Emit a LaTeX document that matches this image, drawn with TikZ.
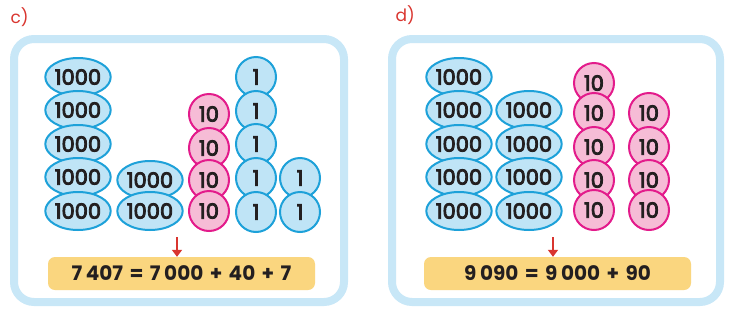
\documentclass[tikz,border=0pt]{standalone}
\usepackage{fontspec}
\setmainfont{Poppins}
\newfontfamily\numf[FakeBold=4]{Poppins}
\usetikzlibrary{shapes.geometric,arrows.meta}
\definecolor{bstroke}{HTML}{1DA1D9}
\definecolor{bfill}{HTML}{BFE4F6}
\definecolor{pstroke}{HTML}{E31B8B}
\definecolor{pfill}{HTML}{F6BCD6}
\definecolor{ybox}{HTML}{FAD67F}
\definecolor{frameb}{HTML}{C8E7F7}
\definecolor{lab}{HTML}{D9352F}
\definecolor{arr}{HTML}{D9352F}
\definecolor{txt}{HTML}{231F20}
\tikzset{
  thou/.style={ellipse,draw=bstroke,fill=bfill,line width=2pt,minimum width=64pt,minimum height=38pt,inner sep=0pt,font=\numf\fontsize{21}{21}\selectfont,text=txt},
  ten/.style={circle,draw=pstroke,fill=pfill,line width=2pt,minimum size=40pt,inner sep=0pt,font=\numf\fontsize{21}{21}\selectfont,text=txt},
  one/.style={circle,draw=bstroke,fill=bfill,line width=2pt,minimum size=40pt,inner sep=0pt,font=\numf\fontsize{21}{21}\selectfont,text=txt},
  eqbox/.style={rectangle,rounded corners=7pt,fill=ybox,inner sep=0pt,font=\bfseries\fontsize{20}{20}\selectfont,text=txt},
  frm/.style={draw=frameb,line width=8pt,fill=white,rounded corners=20pt},
  lbl/.style={font=\fontsize{17}{17}\selectfont,text=lab,anchor=west},
  arw/.style={draw=arr,line width=1.6pt,-{Triangle[length=7pt,width=10pt]}}
}
\newcommand{\eqsp}{\hspace{0.32em}}
\newcommand{\thsp}{\hspace{0.18em}}
\begin{document}
\begin{tikzpicture}[x=1pt,y=-1pt]
\useasboundingbox (0,0) rectangle (732,317);
% panel c
\node[lbl] (labc) at (7,17) {c)};
\draw[frm] (14,39) rectangle (344,302);
\foreach \y [count=\i] in {77,110,144,177,211}{\node[thou] (ca\i) at (78,\y) {1000};}
\foreach \y [count=\i] in {180,211}{\node[thou] (cb\i) at (150,\y) {1000};}
\foreach \y [count=\i] in {114,148,180,211}{\node[ten] (cc\i) at (209,\y) {10};}
\foreach \y [count=\i] in {77,111,144,178,212}{\node[one] (cd\i) at (256,\y) {1};}
\foreach \y [count=\i] in {178,212}{\node[one] (ce\i) at (300,\y) {1};}
\node[eqbox,minimum width=267pt,minimum height=33pt] (eqc) at (181.5,273.5) {7\thsp407\eqsp=\eqsp7\thsp000\eqsp+\eqsp40\eqsp+\eqsp7};
\coordinate (ac) at (177,237);
\draw[arw] (ac) -- (ac |- eqc.north);
% panel d
\node[lbl] (labd) at (392,15) {d)};
\draw[frm] (392,39) rectangle (720,302);
\foreach \y [count=\i] in {77,110,144,177,211}{\node[thou] (da\i) at (459,\y) {1000};}
\foreach \y [count=\i] in {110,144,177,211}{\node[thou] (db\i) at (529,\y) {1000};}
\foreach \y [count=\i] in {83,113,147,180,210}{\node[ten] (dc\i) at (594,\y) {10};}
\foreach \y [count=\i] in {113,147,180,210}{\node[ten] (dd\i) at (649,\y) {10};}
\node[eqbox,minimum width=267pt,minimum height=33pt] (eqd) at (557.5,273.5) {9\thsp090\eqsp=\eqsp9\thsp000\eqsp+\eqsp90};
\coordinate (ad) at (553,237);
\draw[arw] (ad) -- (ad |- eqd.north);
\end{tikzpicture}
\end{document}
